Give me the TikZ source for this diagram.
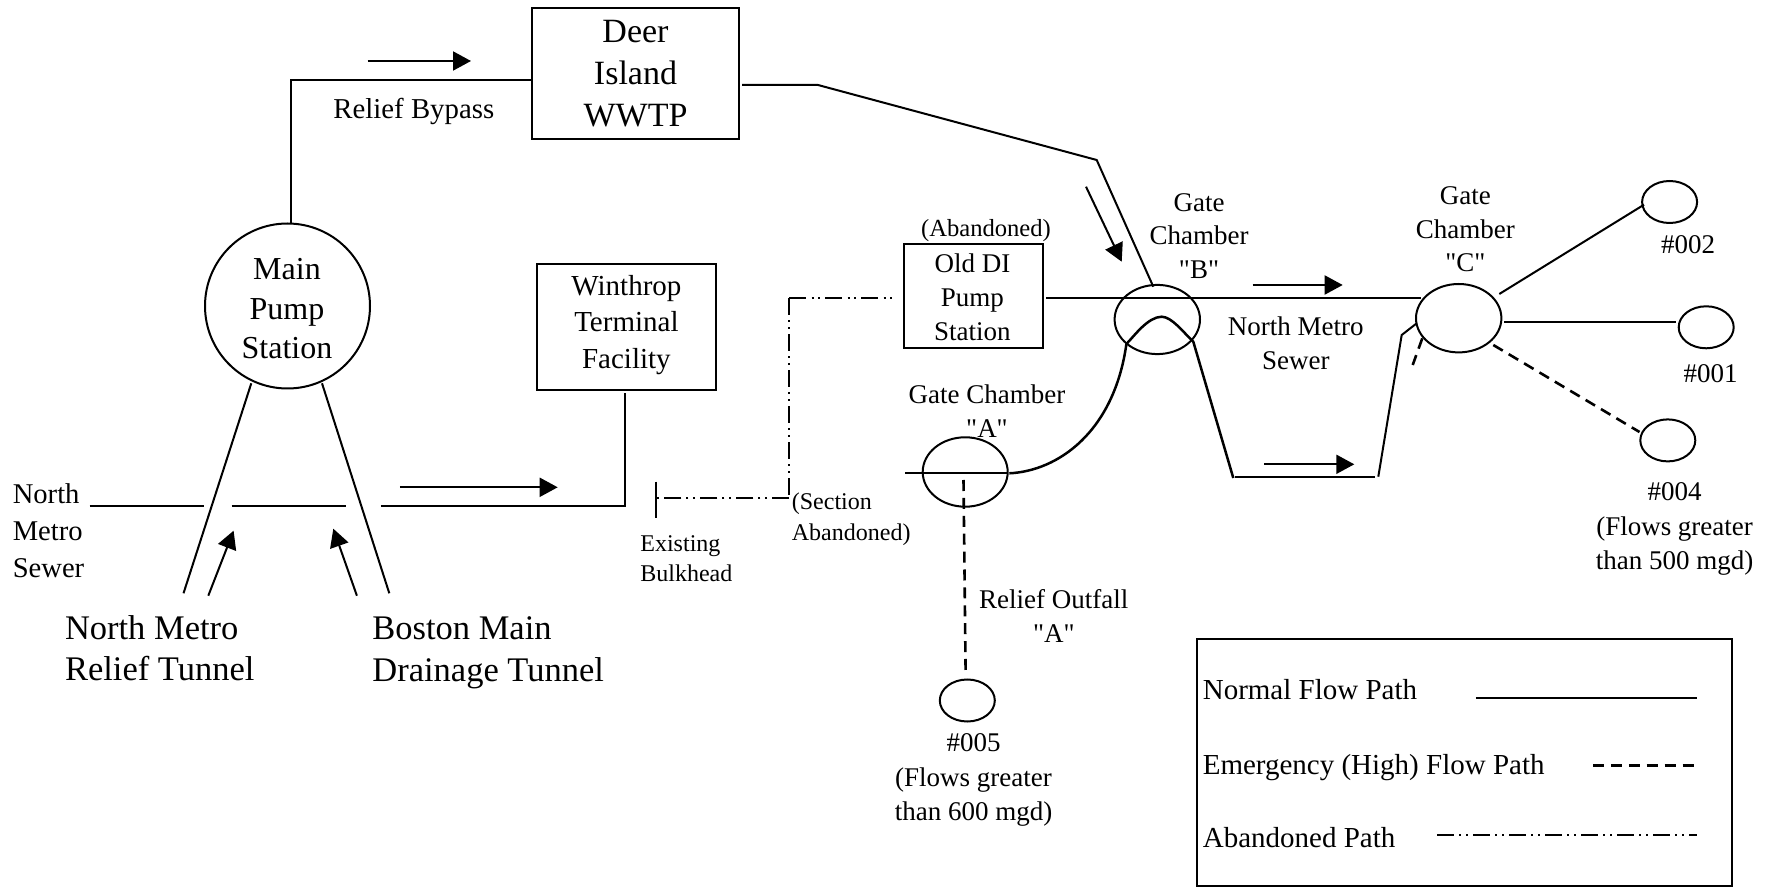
\documentclass[tikz,border=0pt]{standalone}
\usepackage{fontspec}
\setmainfont{Liberation Serif}
\newfontfamily\tf[Ligatures=NoCommon]{Liberation Serif}
\usetikzlibrary{arrows.meta,shapes.geometric}
\tikzset{
  ln/.style={line width=1pt,black},
  lnb/.style={line width=1.25pt,black},
  box/.style={draw,line width=1pt,rectangle,minimum width=#1,inner sep=0pt},
  oval/.style={draw,line width=1pt,ellipse,inner sep=0pt},
  txt/.style 2 args={inner sep=0pt,font=\tf\fontsize{#1}{#2}\selectfont,align=center},
  ltxt/.style 2 args={inner sep=0pt,font=\tf\fontsize{#1}{#2}\selectfont,align=left,anchor=west},
  flow/.style={line width=1pt,-{Triangle[length=9pt,width=9.5pt]}},
  emerg/.style={line width=1.3pt,dash pattern=on 5.5pt off 3.45pt},
  aband/.style={line width=1pt,dash pattern=on 8.5pt off 2.6pt on 1pt off 2.4pt on 1pt off 2.5pt},
}
\begin{document}
\begin{tikzpicture}[x=0.5pt,y=-0.5pt]
\useasboundingbox (0,0) rectangle (1773,887);
\fill[white] (0,0) rectangle (1773,887);
% boxes
\node[box=103.5pt,minimum height=65.5pt] (deer) at (635.7,73.5) {};
\node[box=89.5pt,minimum height=63.25pt] (win) at (626.5,326.8) {};
\node[box=69.5pt,minimum height=51.85pt] (old) at (973.2,295.8) {};
\node[draw,line width=1pt,circle,minimum size=82.5pt,inner sep=0pt] (main) at (287.5,306) {};
% chambers and outfalls
\node[oval,minimum width=42.7pt,minimum height=34.6pt] (gb) at (1157.3,319.5) {};
\node[oval,minimum width=42.7pt,minimum height=34.2pt] (gc) at (1458.7,318.2) {};
\node[oval,minimum width=42.5pt,minimum height=34.7pt] (ga) at (965.2,472) {};
\node[oval,minimum width=27.5pt,minimum height=21pt] (o2) at (1669.6,202) {};
\node[oval,minimum width=27.5pt,minimum height=21pt] (o1) at (1706.2,327.3) {};
\node[oval,minimum width=27.5pt,minimum height=21pt] (o4) at (1667.8,440.4) {};
\node[oval,minimum width=27.5pt,minimum height=21pt] (o5) at (967.3,700.5) {};
% legend box
\draw[line width=1pt] (1197.4,639.3) rectangle (1732.2,886);
% free ends
\coordinate (byA) at (290.6,80.3);
\coordinate (byB) at (531,80.3);
\coordinate (d1) at (742,85);
\coordinate (d2) at (818,85);
\coordinate (d3) at (1096.7,160);
\coordinate (d4) at (1153.3,286.7);
\coordinate (oldE) at (1046,297.7);
\coordinate (cW) at (1420.7,297.7);
\coordinate (aE) at (1009.3,473.3);
\coordinate (bL) at (1126.4,344);
\coordinate (bT) at (1161.7,316.7);
\coordinate (bR) at (1193.3,341.7);
\coordinate (low1) at (1233.3,478);
\coordinate (low2) at (1375,476.7);
\coordinate (low3) at (1378.3,476.7);
\coordinate (low4) at (1401.7,335);
\coordinate (low5) at (1416.7,323.3);
\coordinate (low1b) at (1234.5,476.7);
% normal lines
\draw[ln] (main.north) ++(3.1,0.5) coordinate (mtop) -- (byA) -- (byB);
\draw[ln] (d1) -- (d2) -- (d3) -- (d4);
\draw[ln] (oldE) -- (cW);
\draw[lnb] (aE) .. controls (1058,471) and (1114,432) .. (bL);
\draw[lnb] (bL) .. controls (1135,335) and (1148,317) .. (bT) .. controls (1172,317) and (1183,332) .. (bR) -- (low1);
\draw[ln] (low1b) -- (low2);
\draw[ln] (low3) -- (low4) -- (low5);
\coordinate (c2a) at (1499.3,294); \coordinate (c2b) at (1644,204.7);
\draw[ln] (c2a) -- (c2b);
\coordinate (c1a) at (1504,322.3); \coordinate (c1b) at (1675.7,322.3);
\draw[ln] (c1a) -- (c1b);
\coordinate (aL) at (905,472.7); \coordinate (aR) at (1007.7,472.7);
\draw[ln] (aL) -- (aR);
\coordinate (s1) at (89.6,506); \coordinate (s2) at (203.7,506);
\coordinate (s3) at (231.5,506); \coordinate (s4) at (345.5,506);
\coordinate (s5) at (380.9,506); \coordinate (s6) at (625,506); \coordinate (s7) at (625,392.7);
\draw[ln] (s1) -- (s2);
\draw[ln] (s3) -- (s4);
\draw[ln] (s5) -- (s6) -- (s7);
\coordinate (t1a) at (251.3,383.3); \coordinate (t1b) at (183.5,593.3);
\coordinate (t2a) at (322,383.3); \coordinate (t2b) at (389.3,593.3);
\draw[ln] (t1a) -- (t1b);
\draw[ln] (t2a) -- (t2b);
% emergency
\coordinate (e1a) at (1422.3,338.3); \coordinate (e1b) at (1412.7,365);
\draw[emerg] (e1a) -- (e1b);
\coordinate (e2a) at (1493.3,345); \coordinate (e2b) at (1639.5,432);
\draw[emerg] (e2a) -- (e2b);
\coordinate (e3a) at (963.5,480); \coordinate (e3b) at (965.6,670.5);
\draw[emerg] (e3a) -- (e3b);
% abandoned
\coordinate (ab1) at (895,298.3); \coordinate (ab2) at (789.3,298.3);
\coordinate (ab3) at (789.3,498.3); \coordinate (ab4) at (656,498.3);
\draw[aband] (ab2) -- (ab1);
\draw[aband] (ab2) -- (ab3);
\draw[aband] (ab3) -- (ab4);
\coordinate (bh1) at (656,481.7); \coordinate (bh2) at (656,518.3);
\draw[ln] (bh1) -- (bh2);
% flow arrows
\coordinate (f1a) at (367.5,61); \coordinate (f1b) at (471,61);
\draw[flow] (f1a) -- (f1b);
\coordinate (f2a) at (1086,186.7); \coordinate (f2b) at (1121.7,261.7);
\draw[flow] (f2a) -- (f2b);
\coordinate (f3a) at (1252.7,285); \coordinate (f3b) at (1342.7,285);
\draw[flow] (f3a) -- (f3b);
\coordinate (f4a) at (1264,464.3); \coordinate (f4b) at (1354.3,464.3);
\draw[flow] (f4a) -- (f4b);
\coordinate (f5a) at (399.8,487.3); \coordinate (f5b) at (557.7,487.3);
\draw[flow] (f5a) -- (f5b);
\coordinate (f6a) at (208.3,595.7); \coordinate (f6b) at (233.6,530.7);
\draw[flow] (f6a) -- (f6b);
\coordinate (f7a) at (356.9,595.7); \coordinate (f7b) at (333.3,528.7);
\draw[flow] (f7a) -- (f7b);
% texts
\node[txt={17}{21}] (tdeer) at (635.5,73.6) {Deer\\Island\\WWTP};
\node[txt={16}{19.8}] (tmain) at (287,308.6) {Main\\Pump\\Station};
\node[txt={14.5}{18.35}] (twin) at (626.4,325) {Winthrop\\Terminal\\Facility};
\node[txt={13.5}{16.9}] (told) at (972.4,297.4) {Old DI\\Pump\\Station};
\node[txt={12.3}{14}] (tab) at (986,230.6) {(Abandoned)};
\node[txt={14.4}{16}] (trb) at (413.8,111.9) {Relief Bypass};
\node[txt={13.5}{16.75}] (tgb) at (1199,236) {Gate\\Chamber\\"B"};
\node[txt={13.5}{16.75}] (tgc) at (1465.4,229.4) {Gate\\Chamber\\"C"};
\node[txt={13.5}{16.75}] (tnms) at (1295.8,343.2) {North Metro\\Sewer};
\node[txt={13.5}{16.75}] (tga) at (987,411) {Gate Chamber\\"A"};
\node[ltxt={12}{15.3}] (tsec) at (791.5,519) {(Section\\Abandoned)};
\node[ltxt={12}{15.3}] (tbul) at (640,558.5) {Existing\\Bulkhead};
\node[txt={13.5}{17}] (tro) at (1053.8,615.5) {Relief Outfall\\"A"};
\node[txt={13.5}{17.25}] (t5) at (973.5,780.3) {\#005\\(Flows greater\\than 600 mgd)};
\node[ltxt={14.3}{18.35}] (tnm) at (12.4,530.8) {North\\Metro\\Sewer};
\node[ltxt={17.25}{20.7}] (tnr) at (64.6,648) {North Metro\\Relief Tunnel};
\node[ltxt={17.25}{20.7}] (tbm) at (372,652.8) {Boston Main\\Drainage Tunnel};
\node[txt={13.5}{16}] (t2) at (1688,244.2) {\#002};
\node[txt={13.5}{16}] (t1) at (1710.7,374) {\#001};
\node[txt={13.5}{17.25}] (t4) at (1674.6,529.2) {\#004\\(Flows greater\\than 500 mgd)};
% legend
\node[ltxt={14.5}{17}] (ln1) at (1202.4,690) {Normal Flow Path};
\node[ltxt={14.5}{17}] (ln2) at (1202.4,767.4) {Emergency (High) Flow Path};
\node[ltxt={14.5}{17}] (ln3) at (1202.4,838) {Abandoned Path};
\coordinate (l1a) at (1475.8,697.7); \coordinate (l1b) at (1697.4,697.7);
\draw[ln] (l1a) -- (l1b);
\coordinate (l2a) at (1593,765.3); \coordinate (l2b) at (1693.6,765.3);
\draw[emerg] (l2a) -- (l2b);
\coordinate (l3a) at (1437.2,835.3); \coordinate (l3b) at (1697.4,835.3);
\draw[aband] (l3a) -- (l3b);
\end{tikzpicture}
\end{document}
